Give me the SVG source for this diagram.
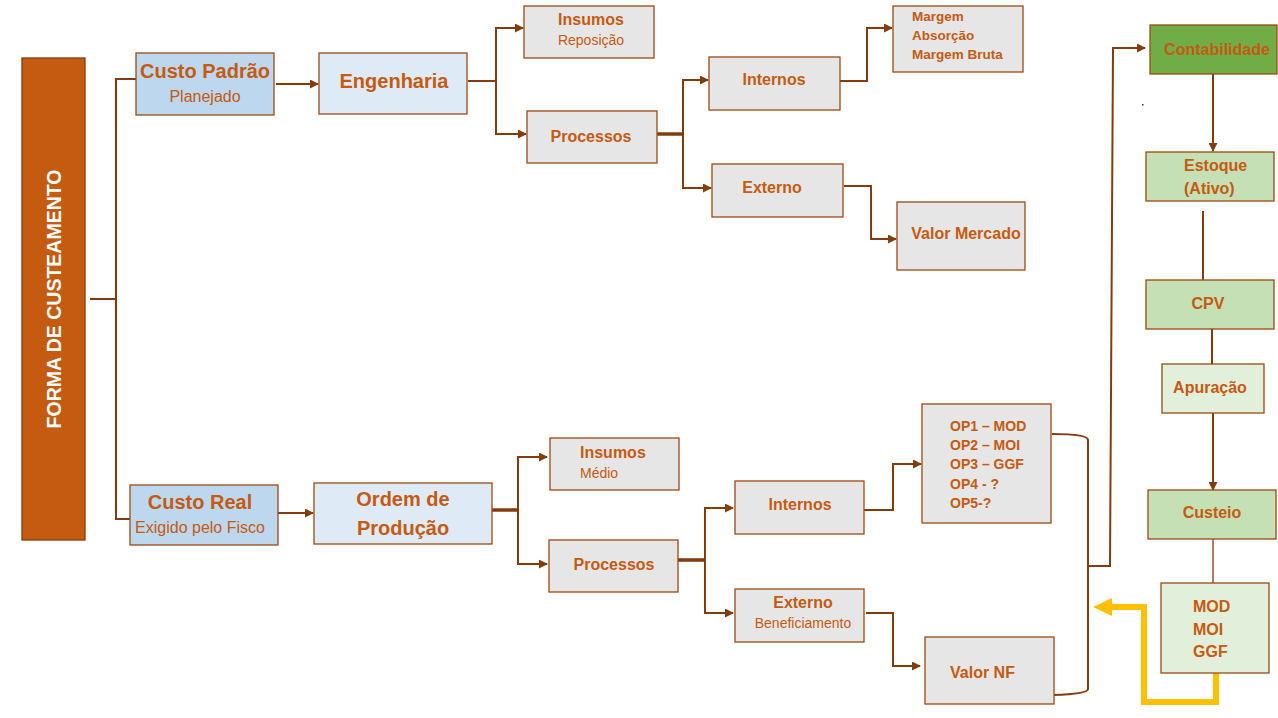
<svg xmlns="http://www.w3.org/2000/svg" width="1278" height="718" viewBox="0 0 1278 718">
<defs>
<marker id="ah" markerUnits="userSpaceOnUse" markerWidth="9" markerHeight="9" refX="8" refY="4.5" orient="auto"><path d="M0,0 L9,4.5 L0,9 z" fill="#843C0C"/></marker>
<style>
.b{stroke:#9C4A12;stroke-width:1.3}
.gray{fill:#E7E6E6}
.lb{fill:#DEEBF7}
.mb{fill:#BDD7EE}
.g1{fill:#70AD47}
.g2{fill:#C5E0B4}
.g3{fill:#E2EFDA}
text{font-family:"Liberation Sans",Arial,sans-serif;fill:#C55A11}
.bd{font-weight:bold}
.c{text-anchor:middle}
.ln{fill:none;stroke:#843C0C;stroke-width:2}
.th{fill:none;stroke:#843C0C;stroke-width:3.5}
</style>
</defs>
<rect width="1278" height="718" fill="#FFFFFF"/>
<g id="connectors">
<path class="ln" d="M90,299 H116 M136,79 H116 V519 H130"/>
<path class="ln" d="M276,84 H318" marker-end="url(#ah)"/>
<path class="ln" d="M468,81 H496"/>
<path class="ln" d="M496,81 V28 H523" marker-end="url(#ah)"/>
<path class="ln" d="M496,81 V134 H526" marker-end="url(#ah)"/>
<path class="th" d="M657,134 H683"/>
<path class="ln" d="M683,134 V80 H708" marker-end="url(#ah)"/>
<path class="ln" d="M683,134 V188 H711" marker-end="url(#ah)"/>
<path class="ln" d="M840,81 H867 V28 H892" marker-end="url(#ah)"/>
<path class="ln" d="M844,186 H871 V239 H896" marker-end="url(#ah)"/>
<path class="ln" d="M1213,74 V151" marker-end="url(#ah)"/>
<path class="ln" d="M1203,211 V280"/>
<path class="ln" d="M1212,329 V364"/>
<path class="ln" d="M1213,413 V490" marker-end="url(#ah)"/>
<path d="M1213,539 V583" fill="none" stroke="#A0522D" stroke-width="1.5"/>
<path class="ln" d="M278,513 H313" marker-end="url(#ah)"/>
<path class="th" d="M492,510 H518"/>
<path class="ln" d="M518,510 V457 H547" marker-end="url(#ah)"/>
<path class="ln" d="M518,510 V564 H547" marker-end="url(#ah)"/>
<path class="th" d="M678,560 H705"/>
<path class="ln" d="M705,560 V508 H733" marker-end="url(#ah)"/>
<path class="ln" d="M705,560 V613 H733" marker-end="url(#ah)"/>
<path class="ln" d="M864,510 H893 V464 H921" marker-end="url(#ah)"/>
<path class="ln" d="M866,613 H893 V666 H920" marker-end="url(#ah)"/>
<path class="ln" d="M1052,434 Q1088,434 1088,440 V689 Q1088,694 1053,695"/>
<path class="ln" d="M1088,566 H1110 L1113,48 H1145" marker-end="url(#ah)"/>
<path d="M1216,673 V702 H1144 V607 H1110" fill="none" stroke="#FFC000" stroke-width="6"/>
<polygon points="1093,607 1112,598 1112,616" fill="#FFC000"/>
<rect x="1142" y="104" width="1.5" height="1.5" fill="#333333"/>
</g>
<g id="forma">
<rect x="22" y="58" width="63" height="482" fill="#C55A11" stroke="#843C0C" stroke-width="1.3"/>
<text transform="translate(61,299) rotate(-90)" class="bd c" font-size="19.5" style="fill:#FFFFFF">FORMA DE CUSTEAMENTO</text>
</g>
<g id="custo-padrao">
<rect x="136" y="53" width="138" height="62" class="mb b"/>
<text x="205" y="78" class="bd c" font-size="20">Custo Padrão</text>
<text x="205" y="102" class="c" font-size="16">Planejado</text>
</g>
<g id="engenharia">
<rect x="319" y="53" width="148" height="61" class="lb b"/>
<text x="394" y="88" class="bd c" font-size="20">Engenharia</text>
</g>
<g id="insumos-reposicao">
<rect x="524" y="6" width="130" height="52" class="gray b"/>
<text x="591" y="25" class="bd c" font-size="16">Insumos</text>
<text x="591" y="45" class="c" font-size="14">Reposição</text>
</g>
<g id="processos-1">
<rect x="527" y="111" width="130" height="52" class="gray b"/>
<text x="591" y="142" class="bd c" font-size="16">Processos</text>
</g>
<g id="internos-1">
<rect x="709" y="57" width="131" height="53" class="gray b"/>
<text x="774" y="85" class="bd c" font-size="16">Internos</text>
</g>
<g id="externo-1">
<rect x="712" y="164" width="131" height="53" class="gray b"/>
<text x="772" y="193" class="bd c" font-size="16">Externo</text>
</g>
<g id="margem">
<rect x="893" y="6" width="130" height="66" class="gray b"/>
<text x="912" y="21" class="bd" font-size="13.5">Margem</text>
<text x="912" y="40" class="bd" font-size="13.5">Absorção</text>
<text x="912" y="59" class="bd" font-size="13.5">Margem Bruta</text>
</g>
<g id="valor-mercado">
<rect x="897" y="202" width="128" height="68" class="gray b"/>
<text x="966" y="239" class="bd c" font-size="16">Valor Mercado</text>
</g>
<g id="contabilidade">
<rect x="1150" y="25" width="127" height="49" class="g1 b"/>
<text x="1217" y="55" class="bd c" font-size="16">Contabilidade</text>
</g>
<g id="estoque">
<rect x="1146" y="152" width="128" height="49" class="g2 b"/>
<text x="1184" y="171" class="bd" font-size="16">Estoque</text>
<text x="1184" y="194" class="bd" font-size="16">(Ativo)</text>
</g>
<g id="cpv">
<rect x="1146" y="280" width="128" height="49" class="g2 b"/>
<text x="1208" y="309" class="bd c" font-size="16">CPV</text>
</g>
<g id="apuracao">
<rect x="1162" y="364" width="102" height="49" class="g3 b"/>
<text x="1210" y="393" class="bd c" font-size="16">Apuração</text>
</g>
<g id="custeio">
<rect x="1148" y="490" width="128" height="49" class="g2 b"/>
<text x="1212" y="518" class="bd c" font-size="16">Custeio</text>
</g>
<g id="mod-moi-ggf">
<rect x="1161" y="583" width="108" height="90" class="g3 b"/>
<text x="1193" y="612" class="bd" font-size="16">MOD</text>
<text x="1193" y="635" class="bd" font-size="16">MOI</text>
<text x="1193" y="657" class="bd" font-size="16">GGF</text>
</g>
<g id="custo-real">
<rect x="130" y="485" width="148" height="60" class="mb b"/>
<text x="200" y="509" class="bd c" font-size="20">Custo Real</text>
<text x="200" y="533" class="c" font-size="16">Exigido pelo Fisco</text>
</g>
<g id="ordem-producao">
<rect x="314" y="483" width="178" height="61" class="lb b"/>
<text x="403" y="506" class="bd c" font-size="20">Ordem de</text>
<text x="403" y="535" class="bd c" font-size="20">Produção</text>
</g>
<g id="insumos-medio">
<rect x="550" y="438" width="129" height="52" class="gray b"/>
<text x="580" y="458" class="bd" font-size="16">Insumos</text>
<text x="580" y="478" font-size="14">Médio</text>
</g>
<g id="processos-2">
<rect x="549" y="540" width="129" height="52" class="gray b"/>
<text x="614" y="570" class="bd c" font-size="16">Processos</text>
</g>
<g id="internos-2">
<rect x="735" y="481" width="129" height="53" class="gray b"/>
<text x="800" y="510" class="bd c" font-size="16">Internos</text>
</g>
<g id="externo-2">
<rect x="735" y="589" width="129" height="53" class="gray b"/>
<text x="803" y="608" class="bd c" font-size="16">Externo</text>
<text x="803" y="628" class="c" font-size="14">Beneficiamento</text>
</g>
<g id="op">
<rect x="922" y="404" width="129" height="119" class="gray b"/>
<text x="950" y="431" class="bd" font-size="14">OP1 – MOD</text>
<text x="950" y="450" class="bd" font-size="14">OP2 – MOI</text>
<text x="950" y="469" class="bd" font-size="14">OP3 – GGF</text>
<text x="950" y="489" class="bd" font-size="14">OP4 - ?</text>
<text x="950" y="508" class="bd" font-size="14">OP5-?</text>
</g>
<g id="valor-nf">
<rect x="925" y="637" width="129" height="67" class="gray b"/>
<text x="950" y="678" class="bd" font-size="16">Valor NF</text>
</g>
</svg>
